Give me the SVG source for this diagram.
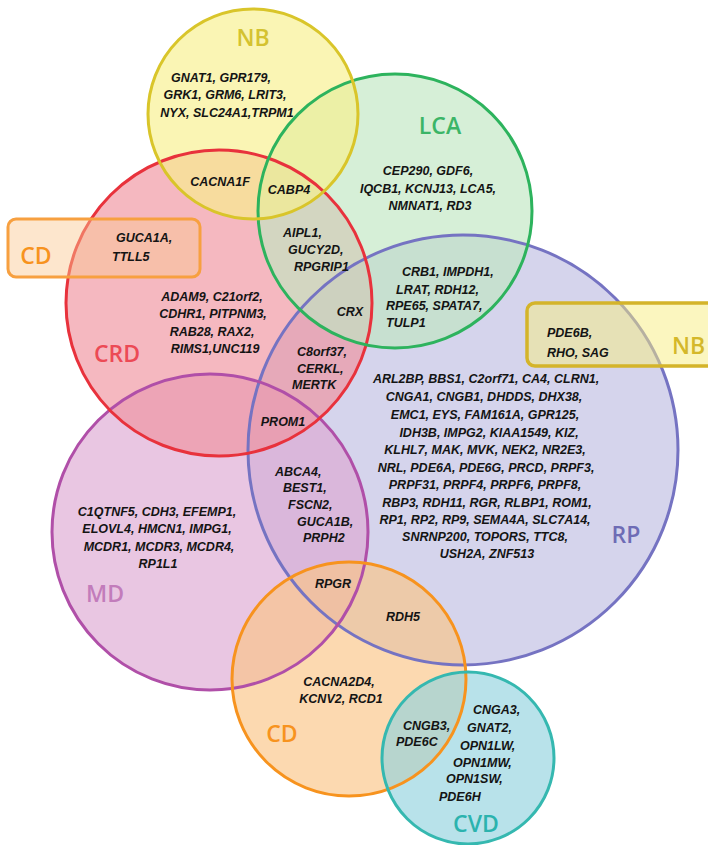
<svg xmlns="http://www.w3.org/2000/svg" width="708" height="845" viewBox="0 0 708 845">
<style>
.g{font-family:"Liberation Sans",Arial,sans-serif;font-weight:bold;font-style:italic;font-size:12.5px;fill:#141414}
.m{text-anchor:middle}
.lab{font-family:"Open Sans","Liberation Sans",sans-serif;font-weight:600;font-size:23px;text-anchor:middle}
.ring{fill:none;stroke-width:3}
.f{fill-opacity:0.65}
</style>
<rect width="708" height="845" fill="#ffffff"/>
<g id="fills">
<circle class="f" cx="463" cy="450" r="215" fill="#bebde2"/>
<circle class="f" cx="210" cy="532" r="158" fill="#dda7d2"/>
<circle class="f" cx="219" cy="303" r="153" fill="#f0929e"/>
<circle class="f" cx="395" cy="211" r="137" fill="#c0e6c1"/>
<circle class="f" cx="253" cy="114" r="105" fill="#f7f08c"/>
<circle class="f" cx="349" cy="679" r="117" fill="#fac585"/>
<circle class="f" cx="468" cy="758" r="86" fill="#92d2df"/>
</g>
<g id="RP">
<circle class="ring" cx="463" cy="450" r="215" stroke="#7573c2"/>
<text class="lab" x="626" y="543" fill="#6e6cb5">RP</text>
<text class="g m" x="486" y="382.5">ARL2BP, BBS1, C2orf71, CA4, CLRN1,</text>
<text class="g m" x="484" y="400.5">CNGA1, CNGB1, DHDDS, DHX38,</text>
<text class="g m" x="485" y="418.5">EMC1, EYS, FAM161A, GPR125,</text>
<text class="g m" x="489" y="436.5">IDH3B, IMPG2, KIAA1549, KIZ,</text>
<text class="g m" x="485" y="454">KLHL7, MAK, MVK, NEK2, NR2E3,</text>
<text class="g m" x="486" y="471.5">NRL, PDE6A, PDE6G, PRCD, PRPF3,</text>
<text class="g m" x="485" y="489">PRPF31, PRPF4, PRPF6, PRPF8,</text>
<text class="g m" x="487" y="506.5">RBP3, RDH11, RGR, RLBP1, ROM1,</text>
<text class="g m" x="485" y="523.5">RP1, RP2, RP9, SEMA4A, SLC7A14,</text>
<text class="g m" x="485" y="541">SNRNP200, TOPORS, TTC8,</text>
<text class="g m" x="487" y="558">USH2A, ZNF513</text>
</g>
<g id="MD">
<circle class="ring" cx="210" cy="532" r="158" stroke="#b04fa8"/>
<text class="lab" x="105" y="602" fill="#c27cbb">MD</text>
<text class="g m" x="157" y="516">C1QTNF5, CDH3, EFEMP1,</text>
<text class="g m" x="157" y="533">ELOVL4, HMCN1, IMPG1,</text>
<text class="g m" x="159" y="551">MCDR1, MCDR3, MCDR4,</text>
<text class="g m" x="158" y="568">RP1L1</text>
</g>
<g id="CRD">
<circle class="ring" cx="219" cy="303" r="153" stroke="#e8323c"/>
<text class="lab" x="117" y="362" fill="#ec4a55">CRD</text>
<text class="g m" x="212" y="301">ADAM9, C21orf2,</text>
<text class="g m" x="213" y="318">CDHR1, PITPNM3,</text>
<text class="g m" x="212" y="336">RAB28, RAX2,</text>
<text class="g m" x="215" y="353">RIMS1,UNC119</text>
</g>
<g id="LCA">
<circle class="ring" cx="395" cy="211" r="137" stroke="#2db35d"/>
<text class="lab" x="440" y="134" fill="#3bb567">LCA</text>
<text class="g m" x="428" y="175">CEP290, GDF6,</text>
<text class="g m" x="428" y="193">IQCB1, KCNJ13, LCA5,</text>
<text class="g m" x="430" y="210">NMNAT1, RD3</text>
</g>
<g id="NB">
<circle class="ring" cx="253" cy="114" r="105" stroke="#d9c52a"/>
<text class="lab" x="253" y="46" fill="#d4c230">NB</text>
<text class="g m" x="221" y="82">GNAT1, GPR179,</text>
<text class="g m" x="225" y="99">GRK1, GRM6, LRIT3,</text>
<text class="g m" x="227" y="117">NYX, SLC24A1,TRPM1</text>
</g>
<g id="CD">
<circle class="ring" cx="349" cy="679" r="117" stroke="#f7931e"/>
<text class="lab" x="282" y="742" fill="#f7931e">CD</text>
<text class="g m" x="339" y="686">CACNA2D4,</text>
<text class="g m" x="341" y="703">KCNV2, RCD1</text>
</g>
<g id="CVD">
<circle class="ring" cx="468" cy="758" r="86" stroke="#35b8b0"/>
<text class="lab" x="476" y="832" fill="#2bb3ae">CVD</text>
<text class="g" x="473" y="714">CNGA3,</text>
<text class="g" x="467" y="732">GNAT2,</text>
<text class="g" x="460" y="750">OPN1LW,</text>
<text class="g" x="453" y="767">OPN1MW,</text>
<text class="g" x="446" y="783">OPN1SW,</text>
<text class="g" x="439" y="801">PDE6H</text>
</g>
<g id="CD-box">
<rect x="8" y="219" width="192" height="58" rx="8" fill="#fbc890" fill-opacity="0.45" stroke="#f7a040" stroke-width="3"/>
<text class="lab" x="36" y="264" fill="#f7931e">CD</text>
<text class="g" x="116" y="242">GUCA1A,</text>
<text class="g" x="112" y="261">TTLL5</text>
</g>
<g id="NB-box">
<rect x="527" y="303" width="190" height="63" rx="8" fill="#f8ee80" fill-opacity="0.5" stroke="#d4b42a" stroke-width="3.5"/>
<text class="lab" x="672" y="354" fill="#d4b82a" style="text-anchor:start">NB</text>
<text class="g" x="547" y="337">PDE6B,</text>
<text class="g" x="547" y="357">RHO, SAG</text>
</g>
<g id="overlaps">
<text class="g m" x="220" y="186">CACNA1F</text>
<text class="g m" x="289" y="194">CABP4</text>
<text class="g" x="283" y="237">AIPL1,</text>
<text class="g" x="288" y="254">GUCY2D,</text>
<text class="g" x="294" y="271">RPGRIP1</text>
<text class="g" x="402" y="276">CRB1, IMPDH1,</text>
<text class="g" x="396" y="294">LRAT, RDH12,</text>
<text class="g" x="386" y="310">RPE65, SPATA7,</text>
<text class="g" x="386" y="327">TULP1</text>
<text class="g m" x="350" y="316">CRX</text>
<text class="g" x="297" y="356">C8orf37,</text>
<text class="g" x="297" y="373">CERKL,</text>
<text class="g" x="292" y="389">MERTK</text>
<text class="g m" x="283" y="426">PROM1</text>
<text class="g" x="275" y="476">ABCA4,</text>
<text class="g" x="283" y="492">BEST1,</text>
<text class="g" x="288" y="509">FSCN2,</text>
<text class="g" x="297" y="526">GUCA1B,</text>
<text class="g" x="303" y="542">PRPH2</text>
<text class="g m" x="333" y="588">RPGR</text>
<text class="g m" x="403" y="621">RDH5</text>
<text class="g" x="403" y="730">CNGB3,</text>
<text class="g" x="396" y="746">PDE6C</text>
</g>
</svg>
